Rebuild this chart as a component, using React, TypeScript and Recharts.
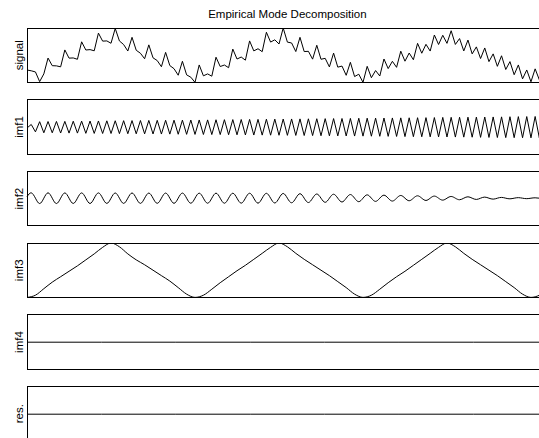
import { LineChart, Line, XAxis, YAxis } from 'recharts';

// samples (one every ~4.2px along the time axis)
const signal = [
    0.15, 0.13, 0.1, -0.15, 0.05, 0.459, 0.262, 0.257, 0.232, 0.669,
    0.457, 0.462, 0.427, 0.879, 0.667, 0.677, 0.647, 1.104, 0.897, 0.902,
    0.841, 1.225, 0.901, 0.808, 0.641, 0.995, 0.661, 0.583, 0.441, 0.8,
    0.465, 0.394, 0.235, 0.606, 0.265, 0.184, 0.015, 0.376, 0.025, -0.036,
    -0.17, 0.281, 0.0, 0.049, -0.01, 0.481, 0.24, 0.279, 0.21, 0.691,
    0.434, 0.485, 0.404, 0.902, 0.644, 0.7, 0.624, 1.126, 0.872, 0.931,
    0.822, 1.236, 0.871, 0.849, 0.627, 0.995, 0.627, 0.633, 0.431, 0.79,
    0.428, 0.452, 0.23, 0.587, 0.224, 0.252, 0.013, 0.349, -0.019, 0.041,
    -0.169, 0.245, -0.049, 0.136, -0.005, 0.435, 0.187, 0.375, 0.219, 0.637,
    0.378, 0.589, 0.416, 0.839, 0.584, 0.814, 0.64, 1.055, 0.81, 1.048,
    0.839, 1.165, 0.811, 0.963, 0.643, 0.924, 0.567, 0.748, 0.447, 0.72,
    0.367, 0.567, 0.245, 0.518, 0.163, 0.367, 0.028, 0.281, -0.079, 0.151,
    -0.154, 0.18, -0.105, 0.24, 0.007,
];

const imf1 = [
    -0.01, 0.035, -0.06, 0.071, -0.072, 0.073, -0.072, 0.074, -0.075, 0.075,
    -0.076, 0.077, -0.076, 0.078, -0.079, 0.079, -0.08, 0.08, -0.081, 0.082,
    -0.081, 0.083, -0.083, 0.084, -0.084, 0.085, -0.085, 0.086, -0.086, 0.087,
    -0.087, 0.088, -0.088, 0.089, -0.089, 0.09, -0.091, 0.091, -0.092, 0.092,
    -0.093, 0.093, -0.094, 0.094, -0.095, 0.096, -0.095, 0.097, -0.097, 0.098,
    -0.098, 0.099, -0.1, 0.1, -0.101, 0.101, -0.102, 0.103, -0.103, 0.104,
    -0.104, 0.105, -0.105, 0.106, -0.106, 0.107, -0.107, 0.108, -0.108, 0.109,
    -0.11, 0.11, -0.111, 0.111, -0.112, 0.112, -0.113, 0.113, -0.114, 0.115,
    -0.115, 0.116, -0.116, 0.117, -0.117, 0.118, -0.118, 0.119, -0.119, 0.12,
    -0.121, 0.121, -0.122, 0.122, -0.123, 0.123, -0.124, 0.124, -0.125, 0.126,
    -0.126, 0.127, -0.127, 0.128, -0.128, 0.129, -0.129, 0.13, -0.131, 0.131,
    -0.132, 0.132, -0.133, 0.133, -0.134, 0.135, -0.135, 0.136, -0.136, 0.137,
    -0.137, 0.138, -0.139, 0.139, -0.14,
];

const imf2 = [
    0.02, 0.069, 0, -0.069, 0, 0.069, 0, -0.069, 0, 0.068,
    0, -0.068, 0, 0.068, 0, -0.068, 0, 0.068, 0, -0.067,
    0, 0.067, 0, -0.067, 0, 0.067, 0, -0.067, 0, 0.066,
    0, -0.066, 0, 0.066, 0, -0.066, 0, 0.066, 0, -0.065,
    0, 0.065, 0, -0.065, 0, 0.065, 0, -0.065, 0, 0.064,
    0, -0.064, 0, 0.064, 0, -0.064, 0, 0.063, 0, -0.062,
    0, 0.061, 0, -0.059, 0, 0.058, 0, -0.056, 0, 0.054,
    0, -0.053, 0, 0.051, 0, -0.049, 0, 0.047, 0, -0.045,
    0, 0.043, 0, -0.041, 0, 0.039, 0, -0.037, 0, 0.035,
    0, -0.033, 0, 0.031, 0, -0.029, 0, 0.027, 0, -0.025,
    0, 0.022, 0, -0.02, 0, 0.018, 0, -0.016, 0, 0.014,
    0, -0.012, 0, 0.01, 0, -0.008, 0, 0.007, 0, -0.006,
    0, 0.005, 0, -0.004, 0,
];

// coarser: one sample every ~8.4px
const imf3 = [
    0, 0.04, 0.16, 0.28, 0.38, 0.48, 0.58, 0.69, 0.8, 0.92,
    1.0, 0.93, 0.8, 0.69, 0.6, 0.5, 0.4, 0.3, 0.18, 0.06,
    0, 0.04, 0.15, 0.27, 0.38, 0.49, 0.59, 0.7, 0.81, 0.92,
    1.0, 0.93, 0.81, 0.7, 0.6, 0.5, 0.4, 0.29, 0.18, 0.06,
    0, 0.04, 0.15, 0.27, 0.38, 0.48, 0.59, 0.7, 0.81, 0.92,
    1.0, 0.93, 0.81, 0.7, 0.6, 0.5, 0.4, 0.29, 0.18, 0.06,
    0, 0.04, 0.15,
];

const imf4 = [0, 0, 0, 0, 0, 0, 0, 0];
const residue = [0.5, 0.5, 0.5, 0.5, 0.5, 0.5, 0.5, 0.5];

const labels = ['signal', 'imf1', 'imf2', 'imf3', 'imf4', 'res.'];
const title = 'Empirical Mode Decomposition';

const FONT = '"Liberation Sans", Arial, Helvetica, sans-serif';
const CHART_W = 560;
const LEFT = 27;
const RIGHT = 12.2;
const PLOT_W = CHART_W - LEFT - RIGHT;
const PANEL_H = 54.4;
const FIRST_TOP = 28;
const STEP = 71.7;

type Panel = {
    values: number[];
    domain: [number | string, number | string];
    curve: 'linear' | 'natural' | 'monotone';
};

const panels: Panel[] = [
    { values: signal, domain: ['dataMin', 'dataMax'], curve: 'linear' },
    { values: imf1, domain: [-0.35, 0.35], curve: 'linear' },
    { values: imf2, domain: [-0.35, 0.35], curve: 'natural' },
    { values: imf3, domain: ['dataMin', 'dataMax'], curve: 'monotone' },
    { values: imf4, domain: [-1, 1], curve: 'linear' },
    { values: residue, domain: [0, 1], curve: 'linear' },
];

function PanelChart({ panel, top }: { panel: Panel; top: number }) {
    const rows = panel.values.map((v, i) => ({ i, v }));
    return (
        <div style={{ position: 'absolute', left: 0, top }}>
            <LineChart
                width={CHART_W}
                height={PANEL_H}
                data={rows}
                margin={{ top: 0, right: RIGHT, bottom: 0, left: LEFT }}
            >
                <XAxis hide type="number" dataKey="i" domain={[0, panel.values.length - 1]} />
                <YAxis hide type="number" domain={panel.domain as any} />
                <Line
                    type={panel.curve}
                    dataKey="v"
                    stroke="#000"
                    strokeWidth={1}
                    dot={false}
                    isAnimationActive={false}
                />
            </LineChart>
        </div>
    );
}

export default function App() {
    return (
        <div
            style={{
                position: 'fixed',
                left: 0,
                top: 0,
                width: 539,
                height: 438,
                overflow: 'hidden',
                background: '#fff',
                fontFamily: FONT,
            }}
        >
            {panels.map((p, idx) => (
                <PanelChart key={idx} panel={p} top={FIRST_TOP + idx * STEP} />
            ))}

            {/* axes boxes */}
            {panels.map((_, idx) => (
                <div
                    key={'box' + idx}
                    style={{
                        position: 'absolute',
                        left: LEFT - 0.5,
                        top: FIRST_TOP + idx * STEP - 0.5,
                        width: PLOT_W - 1,
                        height: PANEL_H - 1,
                        border: '1px solid #000',
                        pointerEvents: 'none',
                    }}
                />
            ))}

            <svg
                width={539}
                height={438}
                style={{ position: 'absolute', left: 0, top: 0, pointerEvents: 'none' }}
            >
                <text
                    x={LEFT + PLOT_W / 2}
                    y={18.3}
                    textAnchor="middle"
                    fontSize={11.5}
                    fontFamily={FONT}
                    fill="#000"
                >
                    {title}
                </text>
                {labels.map((l, idx) => {
                    const cy = FIRST_TOP + idx * STEP + PANEL_H / 2;
                    return (
                        <text
                            key={l}
                            x={23}
                            y={cy}
                            transform={`rotate(-90, 23, ${cy})`}
                            textAnchor="middle"
                            fontSize={11.5}
                            fontFamily={FONT}
                            fill="#000"
                        >
                            {l}
                        </text>
                    );
                })}
            </svg>
        </div>
    );
}
